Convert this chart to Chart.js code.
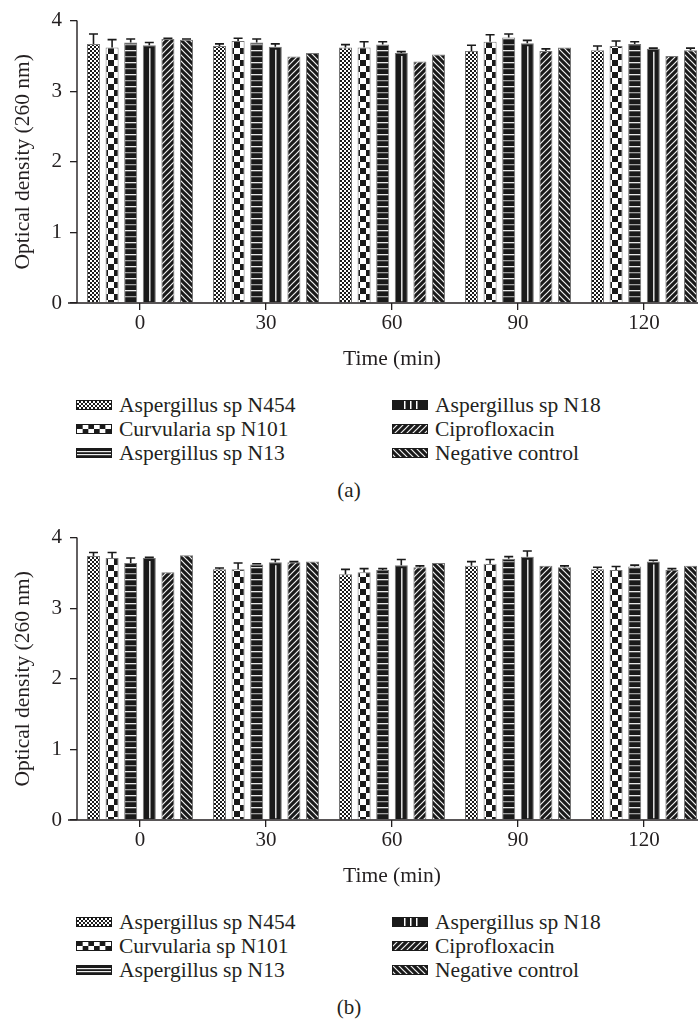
<!DOCTYPE html>
<html><head><meta charset="utf-8">
<script src="https://cdn.jsdelivr.net/npm/chart.js@4.4.1/dist/chart.umd.min.js"></script>
<style>
html,body{margin:0;padding:0;background:#fff;overflow:hidden;width:698px;height:1021px;}
.panel{position:absolute;left:0;width:698px;height:517px;overflow:hidden;}
.panel canvas.chart{position:absolute;left:0;top:0;}
.legtext{position:absolute;font-family:"Liberation Serif",serif;font-size:21.5px;color:#231f20;line-height:24px;white-space:nowrap;}
.sw{position:absolute;}
.cap{position:absolute;left:0;width:698px;text-align:center;font-family:"Liberation Serif",serif;font-size:21px;color:#231f20;line-height:24px;}
</style></head><body>
<div class="panel" id="pa" style="top:0"><canvas class="chart" id="ca" width="712" height="380"></canvas></div>
<div class="panel" id="pb" style="top:517px"><canvas class="chart" id="cb" width="712" height="380"></canvas></div>
<script>
// ---- data ----
const timeLabels = ['0','30','60','90','120'];
const seriesNames = ['Aspergillus sp N454','Curvularia sp N101','Aspergillus sp N13','Aspergillus sp N18','Ciprofloxacin','Negative control'];
const panelCaptions = ['(a)','(b)'];
const yTickValues = [0,1,2,3,4];
const xTitle = 'Time (min)';
const yTitle = 'Optical density (260 nm)';

// panel (a)
const a_N454 = [3.67,3.64,3.62,3.57,3.58];
const a_N454_err = [0.14,0.03,0.04,0.08,0.06];
const a_N101 = [3.62,3.71,3.62,3.70,3.64];
const a_N101_err = [0.11,0.04,0.08,0.10,0.07];
const a_N13 = [3.69,3.69,3.66,3.76,3.67];
const a_N13_err = [0.05,0.05,0.04,0.05,0.03];
const a_N18 = [3.65,3.63,3.54,3.68,3.60];
const a_N18_err = [0.04,0.04,0.02,0.04,0.01];
const a_Cipro = [3.74,3.49,3.42,3.57,3.50];
const a_Cipro_err = [0.01,0,0,0.03,0];
const a_Neg = [3.73,3.54,3.52,3.62,3.58];
const a_Neg_err = [0.01,0,0,0,0.03];

// panel (b)
const b_N454 = [3.74,3.55,3.48,3.60,3.55];
const b_N454_err = [0.05,0.02,0.07,0.06,0.03];
const b_N101 = [3.71,3.55,3.51,3.63,3.54];
const b_N101_err = [0.08,0.09,0.05,0.06,0.05];
const b_N13 = [3.64,3.62,3.54,3.70,3.59];
const b_N13_err = [0.07,0.01,0.02,0.03,0.02];
const b_N18 = [3.71,3.65,3.61,3.73,3.66];
const b_N18_err = [0.01,0.04,0.08,0.08,0.02];
const b_Cipro = [3.51,3.65,3.58,3.60,3.54];
const b_Cipro_err = [0,0.01,0.02,0,0.02];
const b_Neg = [3.75,3.66,3.64,3.58,3.60];
const b_Neg_err = [0,0,0,0.02,0];

// ---- styling ----
const INK = '#231f20';
const BLACK = '#1a1a1a';
const FONT = '"Liberation Serif", "Times New Roman", serif';
const kinds = ['fine','check','hlines','solid','fwd','back'];

function makeTile(type){
  const c = document.createElement('canvas'); const g = c.getContext('2d');
  if(type==='fine'){
    c.width=4;c.height=4; g.fillStyle='#fff';g.fillRect(0,0,4,4);
    g.fillStyle=BLACK; g.fillRect(0,0,2,2); g.fillRect(2,2,2,2);
  } else if(type==='check'){
    c.width=12;c.height=12; g.fillStyle='#fff';g.fillRect(0,0,12,12);
    g.fillStyle=BLACK; g.fillRect(0,0,6,6); g.fillRect(6,6,6,6);
  } else if(type==='hlines'){
    c.width=4;c.height=12; g.fillStyle=BLACK;g.fillRect(0,0,4,12);
    g.fillStyle='#e8e8e8'; g.fillRect(0,2,4,1.3);
    g.fillStyle='#a0a0a0'; g.fillRect(0,8,4,1.3);
  } else if(type==='fwd' || type==='back'){
    c.width=6;c.height=6; g.fillStyle=BLACK;g.fillRect(0,0,6,6);
    g.strokeStyle='#f2f2f2'; g.lineWidth=1.2; g.beginPath();
    if(type==='fwd'){
      g.moveTo(-1,7);g.lineTo(7,-1); g.moveTo(-1,1);g.lineTo(1,-1); g.moveTo(5,7);g.lineTo(7,5);
    } else {
      g.moveTo(-1,-1);g.lineTo(7,7); g.moveTo(5,-1);g.lineTo(7,1); g.moveTo(-1,5);g.lineTo(1,7);
    }
    g.stroke();
  } else {
    c.width=2;c.height=2; g.fillStyle=BLACK; g.fillRect(0,0,2,2);
  }
  return c;
}

const decor = {
  id:'decor',
  afterDatasetsDraw(chart){
    const ctx = chart.ctx, ys = chart.scales.y;
    chart.data.datasets.forEach((ds,i)=>{
      const meta = chart.getDatasetMeta(i);
      meta.data.forEach((bar,j)=>{
        ctx.save();
        if(ds.centerLine){
          ctx.strokeStyle='#f0f0f0'; ctx.lineWidth=1.4;
          ctx.beginPath(); ctx.moveTo(bar.x+0.5, bar.y+3); ctx.lineTo(bar.x+0.5, bar.base-1); ctx.stroke();
        }
        const e = ds.errors[j];
        if(e>0){
          const yt = ys.getPixelForValue(ds.data[j]+e);
          ctx.strokeStyle=BLACK; ctx.lineWidth=1.6;
          ctx.beginPath(); ctx.moveTo(bar.x, bar.y); ctx.lineTo(bar.x, yt);
          ctx.moveTo(bar.x-4.5, yt); ctx.lineTo(bar.x+4.5, yt); ctx.stroke();
        }
        ctx.restore();
      });
    });
  },
  afterDraw(chart){
    const ctx = chart.ctx, a = chart.chartArea;
    ctx.save(); ctx.strokeStyle=INK; ctx.lineWidth=1.4;
    ctx.beginPath();
    ctx.moveTo(a.left, a.top); ctx.lineTo(a.left, a.bottom);
    ctx.moveTo(a.left-9, a.bottom); ctx.lineTo(a.right+10, a.bottom);
    ctx.stroke(); ctx.restore();
  }
};

function buildChart(canvasId, series, errs){
  const ctx = document.getElementById(canvasId).getContext('2d');
  const datasets = series.map((d,i)=>{
    const kind = kinds[i];
    return {
      label: seriesNames[i],
      data: d,
      errors: errs[i],
      centerLine: kind==='solid',
      backgroundColor: kind==='solid' ? BLACK : ctx.createPattern(makeTile(kind),'repeat'),
      borderColor: '#777',
      borderWidth: 1,
      categoryPercentage: 0.886,
      barPercentage: 0.70
    };
  });
  return new Chart(ctx, {
    type:'bar',
    data:{labels: timeLabels, datasets},
    plugins:[decor],
    options:{
      responsive:false, animation:false, devicePixelRatio:1,
      layout:{padding:{left:0, top:19, right:5, bottom:0}},
      plugins:{legend:{display:false}, tooltip:{enabled:false}},
      scales:{
        x:{
          offset:true,
          grid:{display:true, offset:false, drawOnChartArea:false, drawTicks:true, tickLength:7, color:INK, lineWidth:1.3},
          border:{display:false},
          ticks:{color:INK, font:{family:FONT, size:21}, padding:1, maxRotation:0},
          title:{display:true, text:xTitle, color:INK, font:{family:FONT, size:21.5}, padding:{top:4, bottom:8}},
          afterFit(s){ s.height = 77; }
        },
        y:{
          min:0, max:4,
          afterBuildTicks(s){ s.ticks = yTickValues.map(v=>({value:v})); },
          grid:{display:true, drawOnChartArea:false, drawTicks:true, tickLength:7, color:INK, lineWidth:1.3},
          border:{display:false},
          ticks:{color:INK, font:{family:FONT, size:21}, padding:8},
          title:{display:true, text:yTitle, color:INK, font:{family:FONT, size:21.5}, padding:{top:10, bottom:0}},
          afterFit(s){ s.width = 77; }
        }
      }
    }
  });
}

buildChart('ca', [a_N454,a_N101,a_N13,a_N18,a_Cipro,a_Neg], [a_N454_err,a_N101_err,a_N13_err,a_N18_err,a_Cipro_err,a_Neg_err]);
buildChart('cb', [b_N454,b_N101,b_N13,b_N18,b_Cipro,b_Neg], [b_N454_err,b_N101_err,b_N13_err,b_N18_err,b_Cipro_err,b_Neg_err]);

// ---- legends & captions ----
function drawSwatch(cv, kind){
  const g = cv.getContext('2d'); const w=cv.width, h=cv.height;
  g.fillStyle=BLACK; g.fillRect(0,0,w,h);
  if(kind==='fine'){
    g.fillStyle='#fff'; g.fillRect(1,1,w-2,h-2);
    g.fillStyle=BLACK;
    for(let y=1;y<h-1;y+=2) for(let x=1;x<w-1;x+=2) if(((x+y)/2|0)%2===0) g.fillRect(x,y,2,2);
  } else if(kind==='check'){
    g.fillStyle='#fff'; g.fillRect(1,1,w-2,h-2);
    g.fillStyle=BLACK;
    for(let r=0;r<2;r++) for(let c=0;c<6;c++) if((r+c)%2===0) g.fillRect(1+c*5.67,1+r*4,5.67,4);
  } else if(kind==='hlines'){
    g.fillStyle='#eee'; g.fillRect(1,3,w-2,1.2); g.fillRect(1,6,w-2,1.2);
  } else if(kind==='solid'){
    g.fillStyle='#fff'; g.fillRect(12,1,1.5,h-2); g.fillRect(18,1,1.5,h-2); g.fillRect(24,1,1.5,h-2);
  } else {
    g.fillStyle = g.createPattern(makeTile(kind),'repeat'); g.fillRect(1,1,w-2,h-2);
  }
}
['pa','pb'].forEach((pid,p)=>{
  const panel = document.getElementById(pid);
  const rows = [405,429,453];
  seriesNames.forEach((name,i)=>{
    const col = Math.floor(i/3), row = i%3;
    const sx = col===0 ? 76 : 392, tx = col===0 ? 119 : 435;
    const cv = document.createElement('canvas'); cv.width=36; cv.height=10; cv.className='sw';
    cv.style.left = sx+'px'; cv.style.top = (rows[row]-5)+'px';
    drawSwatch(cv, kinds[i]); panel.appendChild(cv);
    const t = document.createElement('div'); t.className='legtext'; t.textContent=name;
    t.style.left = tx+'px'; t.style.top = (rows[row]-12)+'px'; panel.appendChild(t);
  });
  const c = document.createElement('div'); c.className='cap'; c.textContent = panelCaptions[p];
  c.style.top = (490-12)+'px'; panel.appendChild(c);
});
</script>
</body></html>
